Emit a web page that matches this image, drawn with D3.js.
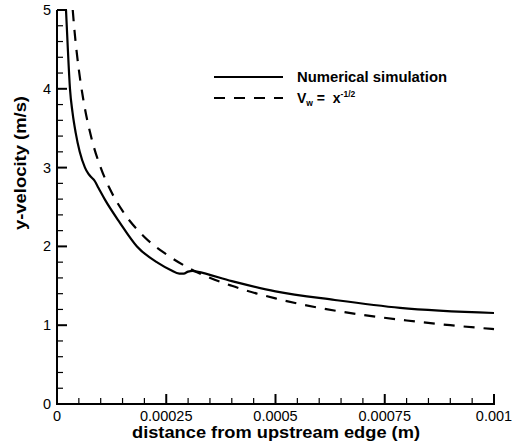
<!DOCTYPE html>
<html>
<head>
<meta charset="utf-8">
<style>
    body { margin: 0; background: #fff; }
    .tick-label { font: 14.5px "Liberation Sans", Arial, sans-serif; fill: #000; }
    .title { font: bold 17px "Liberation Sans", Arial, sans-serif; fill: #000; }
    .legend { font: bold 14px "Liberation Sans", Arial, sans-serif; fill: #000; }
</style>
<script src="https://d3js.org/d3.v7.min.js"></script>
</head>
<body>
<svg id="chart" width="514" height="448"></svg>
<script>
// numerical simulation
var simX = [0.0000206, 0.000024, 0.0000297, 0.0000355, 0.0000428, 0.000052, 0.000064, 0.000072, 0.000078,
            0.000085, 0.000095, 0.00011, 0.000144, 0.000183, 0.000231, 0.00026, 0.00028, 0.00029, 0.0003,
            0.00031, 0.00032, 0.0004, 0.0005, 0.000636, 0.000785, 0.001];
var simV = [5.0, 4.6, 4.0, 3.7, 3.44, 3.2, 3.0, 2.92, 2.88,
            2.84, 2.74, 2.59, 2.3, 2.0, 1.79, 1.70, 1.655, 1.655, 1.68,
            1.69, 1.68, 1.56, 1.43, 1.32, 1.22, 1.155];
// V_w = x^-1/2 curve
var refX = [0.000036, 0.00004, 0.00005, 0.00006, 0.00008, 0.0001, 0.00012, 0.00015, 0.0002, 0.00025,
            0.0003, 0.0004, 0.0005, 0.0006, 0.0007, 0.0008, 0.0009, 0.001];
var refV = [5.0, 4.74, 4.24, 3.87, 3.35, 3.0, 2.74, 2.45, 2.12, 1.90,
            1.73, 1.50, 1.34, 1.22, 1.13, 1.06, 1.0, 0.95];

var xMajor = [0, 0.00025, 0.0005, 0.00075, 0.001];
var xLabels = ["0", "0.00025", "0.0005", "0.00075", "0.001"];
var yMajor = [0, 1, 2, 3, 4, 5];

var svg = d3.select("#chart");
var mLeft = 57, mRight = 494, mTop = 10, mBottom = 404;

var x = d3.scaleLinear().domain([0, 0.001]).range([mLeft, mRight]);
var y = d3.scaleLinear().domain([0, 5]).range([mBottom, mTop]);

svg.append("defs").append("clipPath").attr("id", "clip")
    .append("rect").attr("x", mLeft).attr("y", mTop).attr("width", mRight - mLeft + 2).attr("height", mBottom - mTop);

// minor ticks (inward)
var xMinor = d3.range(0, 21).map(function (i) { return i * 0.00005; });
var yMinor = d3.range(0, 26).map(function (i) { return i * 0.2; });

var ticks = svg.append("g").attr("stroke", "#000");
ticks.selectAll(".xm").data(xMinor).enter().append("line")
    .attr("x1", function (d) { return x(d); }).attr("x2", function (d) { return x(d); })
    .attr("y1", mBottom).attr("y2", function (d, i) { return mBottom - (i % 5 === 0 ? 10 : 6); })
    .attr("stroke-width", function (d, i) { return i % 5 === 0 ? 2 : 1.2; });
ticks.selectAll(".ym").data(yMinor).enter().append("line")
    .attr("y1", function (d) { return y(d); }).attr("y2", function (d) { return y(d); })
    .attr("x1", mLeft).attr("x2", function (d, i) { return mLeft + (i % 5 === 0 ? 10 : 6); })
    .attr("stroke-width", function (d, i) { return i % 5 === 0 ? 2 : 1.2; });

// axis lines
svg.append("line").attr("x1", mLeft).attr("x2", mLeft).attr("y1", mTop).attr("y2", mBottom + 1)
    .attr("stroke", "#000").attr("stroke-width", 2);
svg.append("line").attr("x1", mLeft - 1).attr("x2", mRight + 1).attr("y1", mBottom).attr("y2", mBottom)
    .attr("stroke", "#000").attr("stroke-width", 2);

// tick labels
svg.selectAll(".xl").data(xMajor).enter().append("text")
    .attr("class", "tick-label").attr("text-anchor", "middle")
    .attr("x", function (d) { return x(d); }).attr("y", 421)
    .text(function (d, i) { return xLabels[i]; });
svg.selectAll(".yl").data(yMajor).enter().append("text")
    .attr("class", "tick-label").attr("text-anchor", "end")
    .attr("x", 51).attr("y", function (d) { return y(d) + 5; })
    .text(function (d) { return d; });

// titles
svg.append("text").attr("class", "title").attr("text-anchor", "middle")
    .attr("x", 276).attr("y", 438)
    .attr("textLength", 288).attr("lengthAdjust", "spacingAndGlyphs")
    .text("distance from upstream edge (m)");
svg.append("text").attr("class", "title").attr("text-anchor", "middle")
    .attr("transform", "translate(26,163) rotate(-90)")
    .attr("textLength", 134).attr("lengthAdjust", "spacingAndGlyphs")
    .text("y-velocity (m/s)");

// curves
var line = d3.line().curve(d3.curveMonotoneX)
    .x(function (d) { return x(d[0]); }).y(function (d) { return y(d[1]); });
var plot = svg.append("g").attr("clip-path", "url(#clip)");
plot.append("path").datum(d3.zip(refX, refV)).attr("d", line)
    .attr("fill", "none").attr("stroke", "#000").attr("stroke-width", 2.2).attr("stroke-dasharray", "11,9");
plot.append("path").datum(d3.zip(simX, simV)).attr("d", line)
    .attr("fill", "none").attr("stroke", "#000").attr("stroke-width", 2.2);

// legend
var lg = svg.append("g");
lg.append("line").attr("x1", 214).attr("x2", 283).attr("y1", 77).attr("y2", 77)
    .attr("stroke", "#000").attr("stroke-width", 2.2);
lg.append("text").attr("class", "legend").attr("x", 297).attr("y", 82)
    .attr("textLength", 150).attr("lengthAdjust", "spacingAndGlyphs")
    .text("Numerical simulation");
lg.append("line").attr("x1", 214).attr("x2", 283).attr("y1", 98).attr("y2", 98)
    .attr("stroke", "#000").attr("stroke-width", 2.2).attr("stroke-dasharray", "11,9");
var vt = lg.append("text").attr("class", "legend").attr("x", 297).attr("y", 103);
vt.append("tspan").text("V");
vt.append("tspan").attr("dy", 3).attr("font-size", "8.5px").text("w");
vt.append("tspan").attr("dy", -3).text("\u00a0=\u00a0\u00a0x");
vt.append("tspan").attr("dy", -6).attr("font-size", "8.5px").text("-1/2");
</script>
</body>
</html>
